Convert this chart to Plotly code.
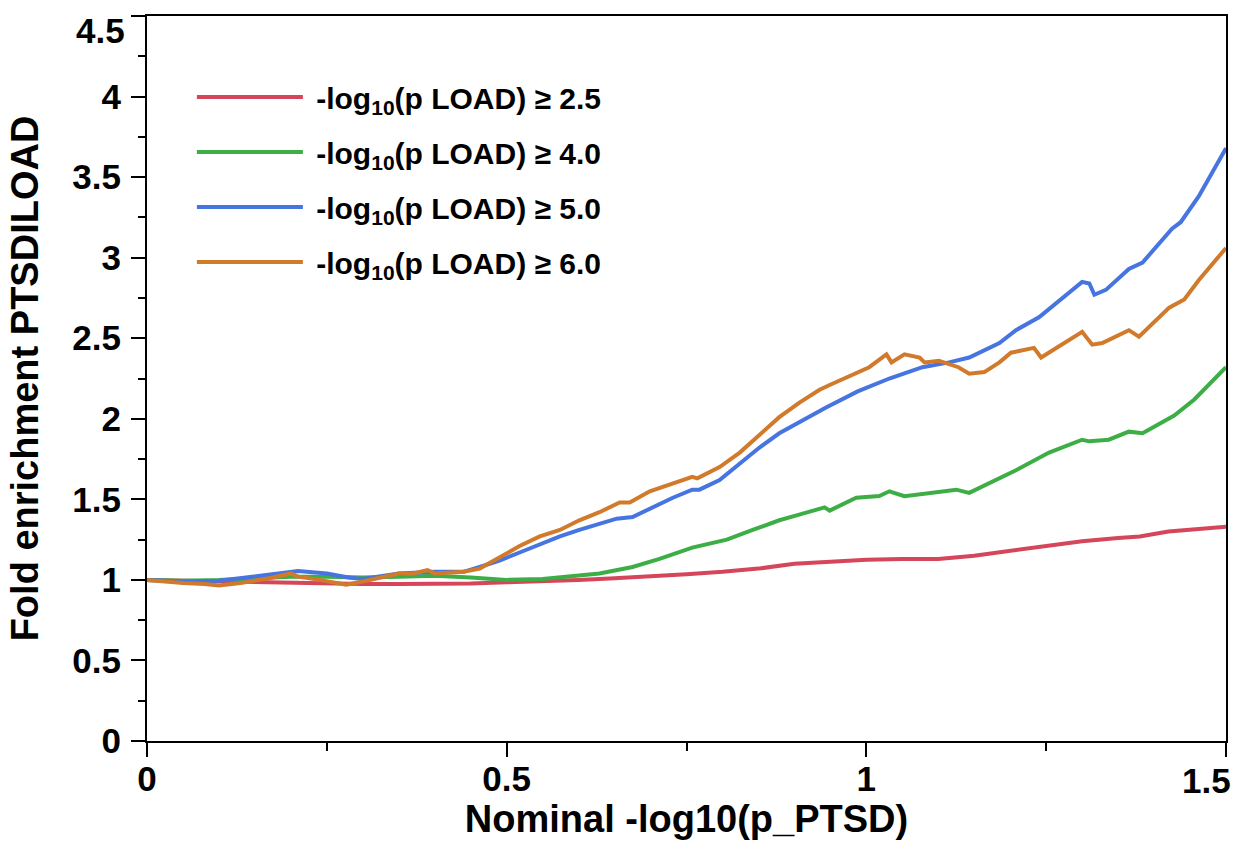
import plotly.graph_objects as go

# ---- data ----
x_red = [0, 0.05, 0.1, 0.15, 0.2, 0.25, 0.3, 0.35, 0.4, 0.45, 0.5, 0.55, 0.6, 0.65, 0.7, 0.75,
         0.8, 0.85, 0.9, 0.95, 1.0, 1.05, 1.1, 1.15, 1.2, 1.25, 1.3, 1.35, 1.38, 1.42, 1.45, 1.5]
y_red = [1.0, 0.995, 0.99, 0.985, 0.98, 0.978, 0.975, 0.975, 0.975, 0.978, 0.985, 0.99, 1.0, 1.01,
         1.02, 1.035, 1.05, 1.07, 1.10, 1.115, 1.125, 1.13, 1.13, 1.15, 1.18, 1.21, 1.24, 1.26,
         1.27, 1.30, 1.31, 1.33]

x_green = [0, 0.05, 0.1, 0.15, 0.2, 0.25, 0.3, 0.35, 0.4, 0.45, 0.5, 0.55, 0.5875, 0.629, 0.675,
           0.7125, 0.758, 0.806, 0.842, 0.879, 0.903, 0.935, 0.942, 0.949, 0.986, 1.018, 1.032,
           1.053, 1.074, 1.125, 1.143, 1.208, 1.254, 1.3, 1.31, 1.337, 1.365, 1.384, 1.428,
           1.456, 1.5]
y_green = [1.0, 0.995, 1.0, 1.01, 1.02, 1.02, 1.015, 1.02, 1.025, 1.015, 1.0, 1.005, 1.02, 1.04,
           1.08, 1.13, 1.20, 1.25, 1.31, 1.37, 1.40, 1.44, 1.45, 1.43, 1.51, 1.52, 1.55, 1.52,
           1.53, 1.56, 1.54, 1.68, 1.79, 1.87, 1.86, 1.87, 1.92, 1.91, 2.02, 2.12, 2.32]

x_blue = [0, 0.05, 0.1, 0.15, 0.2, 0.21, 0.25, 0.28, 0.3, 0.35, 0.4, 0.44, 0.4625, 0.49, 0.518,
          0.546, 0.574, 0.601, 0.629, 0.653, 0.675, 0.703, 0.731, 0.758, 0.768, 0.796, 0.824,
          0.851, 0.879, 0.907, 0.935, 0.944, 0.988, 1.032, 1.078, 1.115, 1.143, 1.185, 1.208,
          1.24, 1.3, 1.31, 1.317, 1.333, 1.365, 1.384, 1.425, 1.437, 1.462, 1.5]
y_blue = [1.0, 0.99, 0.995, 1.02, 1.05, 1.055, 1.04, 1.015, 1.005, 1.04, 1.05, 1.05, 1.08, 1.12,
          1.17, 1.22, 1.27, 1.31, 1.35, 1.38, 1.39, 1.45, 1.51, 1.56, 1.56, 1.62, 1.72, 1.82,
          1.91, 1.98, 2.05, 2.07, 2.17, 2.25, 2.32, 2.35, 2.38, 2.47, 2.55, 2.63, 2.85, 2.84,
          2.77, 2.80, 2.93, 2.97, 3.18, 3.22, 3.38, 3.68]

x_orange = [0, 0.02, 0.05, 0.08, 0.1, 0.13, 0.17, 0.2, 0.21, 0.24, 0.277, 0.3, 0.35, 0.37, 0.39,
            0.4, 0.44, 0.4625, 0.49, 0.518, 0.546, 0.574, 0.601, 0.629, 0.657, 0.671, 0.699,
            0.726, 0.74, 0.758, 0.765, 0.782, 0.796, 0.824, 0.851, 0.879, 0.907, 0.935, 0.949,
            0.983, 1.004, 1.028, 1.035, 1.053, 1.074, 1.081, 1.101, 1.128, 1.143, 1.164, 1.185,
            1.201, 1.233, 1.243, 1.282, 1.3, 1.314, 1.328, 1.365, 1.379, 1.421, 1.442, 1.462, 1.5]
y_orange = [1.0, 0.99, 0.98, 0.975, 0.965, 0.98, 1.01, 1.04, 1.02, 1.0, 0.97, 0.99, 1.04, 1.04,
            1.06, 1.04, 1.05, 1.07, 1.14, 1.21, 1.27, 1.31, 1.37, 1.42, 1.48, 1.48, 1.55, 1.59,
            1.61, 1.64, 1.63, 1.67, 1.70, 1.79, 1.90, 2.01, 2.10, 2.18, 2.21, 2.28, 2.32, 2.40,
            2.35, 2.40, 2.38, 2.35, 2.36, 2.32, 2.28, 2.29, 2.35, 2.41, 2.44, 2.38, 2.49, 2.54,
            2.46, 2.47, 2.55, 2.51, 2.69, 2.74, 2.86, 3.06]

names = ["-log<sub>10</sub>(p LOAD) ≥ 2.5", "-log<sub>10</sub>(p LOAD) ≥ 4.0",
         "-log<sub>10</sub>(p LOAD) ≥ 5.0", "-log<sub>10</sub>(p LOAD) ≥ 6.0"]
colors = ["#D6465A", "#3DAE45", "#4674E0", "#D17A2B"]

x_ticks = [0, 0.5, 1, 1.5]
x_tick_labels = ["0", "0.5", "1", "1.5"]
y_ticks = [0, 0.5, 1, 1.5, 2, 2.5, 3, 3.5, 4, 4.5]
y_tick_labels = ["0", "0.5", "1", "1.5", "2", "2.5", "3", "3.5", "4", "4.5"]

FONT = "Liberation Sans, Arial, Helvetica, sans-serif"
TICK_SIZE = 35

fig = go.Figure()
series = [(x_red, y_red), (x_green, y_green), (x_blue, y_blue), (x_orange, y_orange)]
for i, ((xs, ys), nm, c) in enumerate(zip(series, names, colors)):
    fig.add_trace(go.Scatter(x=xs, y=ys, mode="lines", name="\u00a0" + nm, legendgroup=str(i),
                             line=dict(color=c, width=4)))

# the last tick label of each axis is nudged inward (as in the reference), drawn as annotations
x_text = x_tick_labels[:-1] + [""]
y_text = y_tick_labels[:-1] + [""]

fig.update_layout(
    width=1237, height=848,
    margin=dict(l=147, r=9, t=16, b=107),
    paper_bgcolor="white", plot_bgcolor="white",
    font=dict(family=FONT, color="black", size=24, weight="bold"),
    showlegend=True,
    legend=dict(x=0.0416, y=0.924, xanchor="left", yanchor="top",
                bgcolor="rgba(0,0,0,0)", font=dict(size=30, family=FONT, weight="bold"),
                itemwidth=106, traceorder="grouped", tracegroupgap=13),
    annotations=[
        dict(text=x_tick_labels[-1], x=x_ticks[-1], xref="x", y=0, yref="paper",
             xanchor="right", yanchor="middle", xshift=7, yshift=-39, showarrow=False,
             font=dict(size=TICK_SIZE, family=FONT, weight="bold", color="black")),
        dict(text=y_tick_labels[-1], x=0, xref="paper", y=y_ticks[-1], yref="y",
             xanchor="right", yanchor="middle", xshift=-20, yshift=-14, showarrow=False,
             font=dict(size=TICK_SIZE, family=FONT, weight="bold", color="black")),
    ],
)
fig.update_xaxes(
    range=[0, 1.5], showgrid=False, zeroline=False,
    showline=True, linecolor="black", linewidth=2, mirror=True,
    ticks="outside", ticklen=14, tickwidth=2, tickcolor="black",
    tickvals=x_ticks, ticktext=x_text, ticklabelstandoff=-8,
    tickfont=dict(size=TICK_SIZE, family=FONT, weight="bold"),
    minor=dict(dtick=0.25, ticks="outside", ticklen=8, tickwidth=2, tickcolor="black"),
    title=dict(text="Nominal -log10(p_PTSD)", font=dict(size=38, family=FONT, weight="bold"),
               standoff=8),
)
fig.update_yaxes(
    range=[0, 4.5], showgrid=False, zeroline=False,
    showline=True, linecolor="black", linewidth=2, mirror=True,
    ticks="outside", ticklen=14, tickwidth=2, tickcolor="black",
    tickvals=y_ticks, ticktext=y_text, ticklabelstandoff=3,
    tickfont=dict(size=TICK_SIZE, family=FONT, weight="bold"),
    minor=dict(dtick=0.25, ticks="outside", ticklen=7, tickwidth=2, tickcolor="black"),
    title=dict(text="Fold enrichment PTSDILOAD", font=dict(size=38, family=FONT, weight="bold"),
               standoff=22),
)

fig.write_html("out.html", config={"displayModeBar": False},
               post_script="document.body.style.margin='0';")
